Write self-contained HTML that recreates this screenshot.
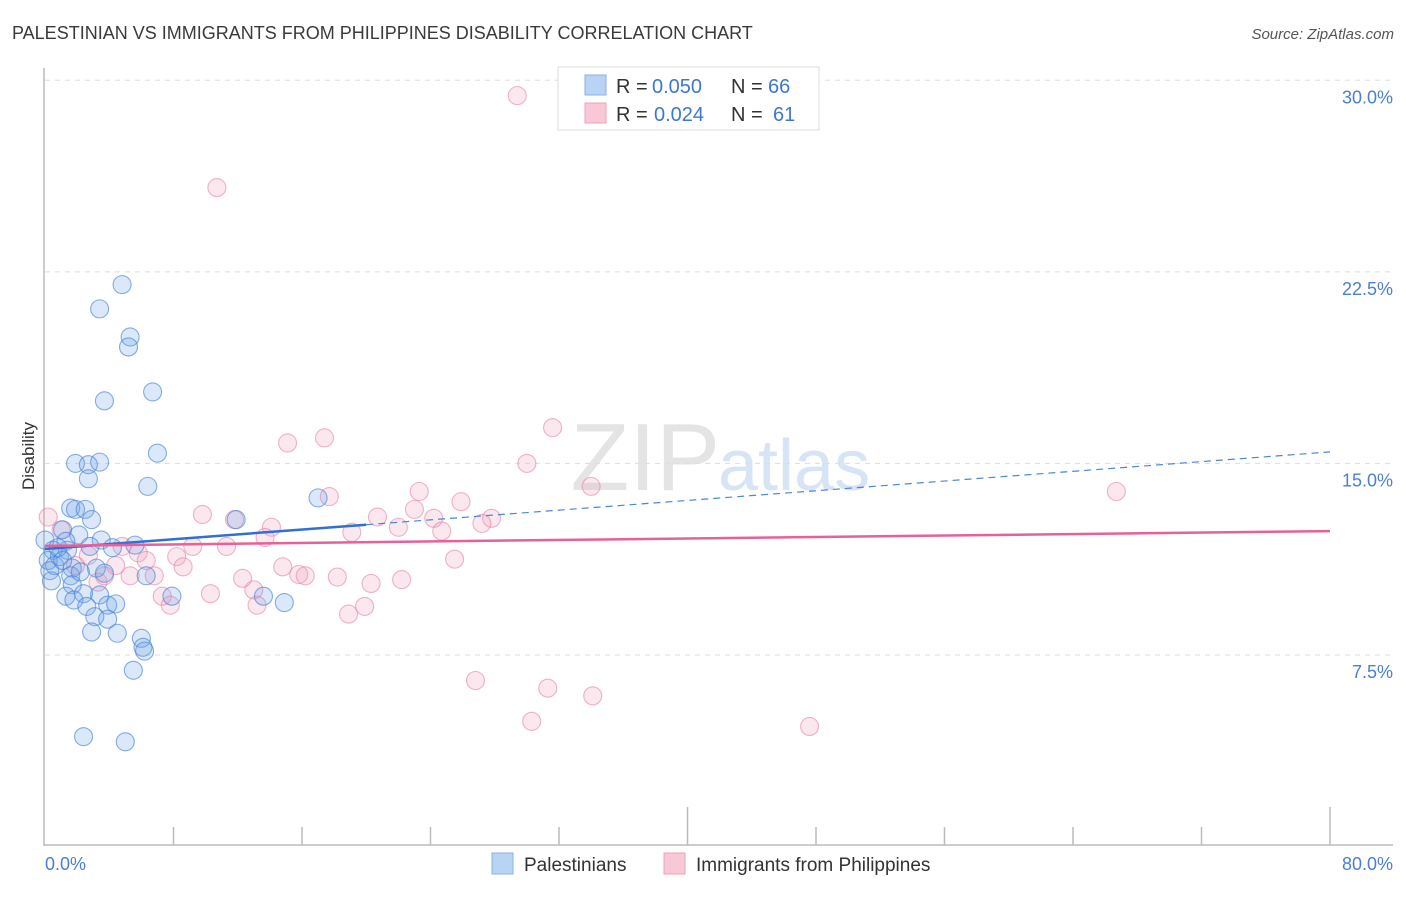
<!DOCTYPE html>
<html><head><meta charset="utf-8"><style>
body{margin:0;background:#fff;font-family:"Liberation Sans",sans-serif;}
svg text{font-family:"Liberation Sans",sans-serif;}
</style></head><body>
<svg width="1406" height="892" xmlns="http://www.w3.org/2000/svg">
<text x="12" y="39" font-size="18" fill="#3a3a3a">PALESTINIAN VS IMMIGRANTS FROM PHILIPPINES DISABILITY CORRELATION CHART</text>
<text x="1394" y="39" font-size="15" fill="#555" font-style="italic" text-anchor="end">Source: ZipAtlas.com</text>
<text x="720" y="490" font-size="96" fill="#e4e4e4" text-anchor="end" font-family="Liberation Serif">ZIP</text>
<text x="718" y="490" font-size="72" fill="#d6e4f5">atlas</text>
<g id="grid"></g>
<g id="axes"></g>
<g id="pts"></g>
<g id="lines"></g>
<text x="34" y="456" font-size="17" fill="#333" text-anchor="middle" transform="rotate(-90 34 456)">Disability</text>
<text x="45" y="870" font-size="18" fill="#4a7fd4">0.0%</text>
<text x="1393" y="870" font-size="18" fill="#4a7fd4" text-anchor="end">80.0%</text>
<g>
<rect x="558" y="67" width="261" height="63" fill="#fff" stroke="#ddd"/>
<rect x="585" y="75" width="21" height="20" fill="#b8d3f4" stroke="#88b0e6"/>
<rect x="585" y="103" width="21" height="20" fill="#f9c8d7" stroke="#eda0b8"/>
<text x="616" y="93" font-size="20" fill="#333">R =</text>
<text x="652" y="93" font-size="20" fill="#3d78d0">0.050</text>
<text x="731" y="93" font-size="20" fill="#333">N =</text>
<text x="768" y="93" font-size="20" fill="#3d78d0">66</text>
<text x="616" y="121" font-size="20" fill="#333">R =</text>
<text x="654" y="121" font-size="20" fill="#3d78d0">0.024</text>
<text x="731" y="121" font-size="20" fill="#333">N =</text>
<text x="773" y="121" font-size="20" fill="#3d78d0">61</text>
</g>
<g>
<rect x="492" y="853" width="21" height="21" fill="#b8d3f4" stroke="#88b0e6"/>
<text x="524" y="871" font-size="19" fill="#333">Palestinians</text>
<rect x="664" y="853" width="21" height="21" fill="#f9c8d7" stroke="#eda0b8"/>
<text x="696" y="871" font-size="19" fill="#333">Immigrants from Philippines</text>
</g>
</svg>
<script>
const yTicks=[7.5,15,22.5,30];
const yTickLabels=["7.5%","15.0%","22.5%","30.0%"];
const xTicks=[0,10,20,30,40,50,60,70,80];
const blueX=[4.8,3.4,5.3,5.2,3.7,6.7,7.0,1.9,2.7,3.4,2.7,6.4,1.6,1.9,2.5,2.9,11.9,17.0,1.1,2.1,3.5,1.3,5.6,2.8,4.2,0.5,0.9,1.4,0.2,0.6,0.3,1.7,1.6,3.2,3.7,6.3,0.4,1.7,2.4,3.4,1.3,1.8,7.9,13.6,3.9,4.4,2.6,14.9,3.1,3.9,2.9,4.5,6.0,6.1,6.2,5.5,2.4,5.0,0.0,0.8,1.1,2.2];
const blueY=[22.0,21.05,19.95,19.56,17.45,17.8,15.4,15.0,14.95,15.05,14.4,14.1,13.25,13.2,13.2,12.8,12.8,13.65,12.4,12.2,12.0,11.95,11.8,11.75,11.7,11.6,11.35,11.6,11.2,11.0,10.8,10.9,10.6,10.9,10.7,10.6,10.4,10.25,9.9,9.85,9.8,9.65,9.8,9.8,9.45,9.5,9.4,9.55,9.0,8.9,8.4,8.35,8.15,7.8,7.65,6.9,4.3,4.1,12.0,11.7,11.2,10.75];
const pinkX=[29.4,10.7,31.6,17.4,15.1,30.0,34.0,23.3,25.9,17.7,66.7,23.0,20.7,9.8,11.8,27.8,24.2,27.2,14.1,22.0,24.7,19.1,13.7,1.0,0.2,4.8,5.8,9.2,11.3,8.2,6.3,2.7,4.4,8.6,25.5,14.8,5.3,6.8,12.3,15.8,16.2,18.2,22.2,20.3,3.3,13.0,10.3,7.3,7.8,13.2,19.9,18.9,26.8,31.3,34.1,30.3,47.6,1.9,3.7];
const pinkY=[29.4,25.8,16.4,16.0,15.8,15.0,14.1,13.9,13.5,13.7,13.9,13.2,12.9,13.0,12.8,12.85,12.85,12.65,12.5,12.5,12.35,12.3,12.1,12.4,12.9,11.75,11.5,11.75,11.75,11.35,11.2,11.4,11.0,10.95,11.25,10.95,10.6,10.6,10.5,10.65,10.6,10.55,10.45,10.3,10.35,10.05,9.9,9.8,9.45,9.45,9.4,9.1,6.5,6.2,5.9,4.9,4.7,11.0,10.6];
const blueTrend=[11.65,15.45];
const pinkTrend=[11.77,12.35];
const blueSolidEnd=20;
const NS="http://www.w3.org/2000/svg";
function sx(v){return 45+v/80*1285;}
function sy(v){return 846.5-v/30*766.2;}
function mk(t,a,p){const e=document.createElementNS(NS,t);for(const k in a)e.setAttribute(k,a[k]);p.appendChild(e);return e;}
const grid=document.getElementById('grid'),axes=document.getElementById('axes'),pts=document.getElementById('pts'),lines=document.getElementById('lines');
yTicks.forEach((v,i)=>{
 const l=mk('line',{x1:45,x2:1393,y1:sy(v),y2:sy(v),stroke:'#ddd','stroke-dasharray':'5,5'},grid);
 
 
 const t=mk('text',{x:1393,y:sy(v)+23,'font-size':18,fill:'#4a7fd4','text-anchor':'end'},grid);
 t.textContent=yTickLabels[i];
 
 
});
let a=mk('line',{x1:44,x2:44,y1:68,y2:846,stroke:'#bbb','stroke-width':1.5},axes);


a=mk('line',{x1:44,x2:1393,y1:845,y2:845,stroke:'#bbb','stroke-width':1.5},axes);


for(let k=1;k<=10;k++){
 const x=45+128.5*k;
 const tk=mk('line',{x1:x,x2:x,y1:(k==5||k==10)?807:827,y2:845,stroke:'#bbb','stroke-width':1.5},axes);
 
 
}
pinkX.forEach((x,i)=>{
 const c=mk('circle',{cx:sx(x),cy:sy(pinkY[i]),r:9,fill:'rgba(240,160,188,0.25)',stroke:'rgba(230,130,165,0.6)','stroke-width':1.1},pts);
 
 
});
blueX.forEach((x,i)=>{
 const c=mk('circle',{cx:sx(x),cy:sy(blueY[i]),r:9,fill:'rgba(110,165,232,0.25)',stroke:'rgba(70,130,215,0.65)','stroke-width':1.1},pts);
 
 
});
function ty(tr,x){return tr[0]+(tr[1]-tr[0])*x/80;}
let ln=mk('line',{x1:sx(0),y1:sy(ty(blueTrend,0)),x2:sx(blueSolidEnd),y2:sy(ty(blueTrend,blueSolidEnd)),stroke:'#2f6fd6','stroke-width':2.5},lines);


ln=mk('line',{x1:sx(blueSolidEnd),y1:sy(ty(blueTrend,blueSolidEnd)),x2:sx(80),y2:sy(ty(blueTrend,80)),stroke:'#4a86d8','stroke-width':1.2,'stroke-dasharray':'7,5'},lines);


ln=mk('line',{x1:sx(0),y1:sy(ty(pinkTrend,0)),x2:sx(80),y2:sy(ty(pinkTrend,80)),stroke:'#e8609a','stroke-width':2.5},lines);


</script>
</body></html>
